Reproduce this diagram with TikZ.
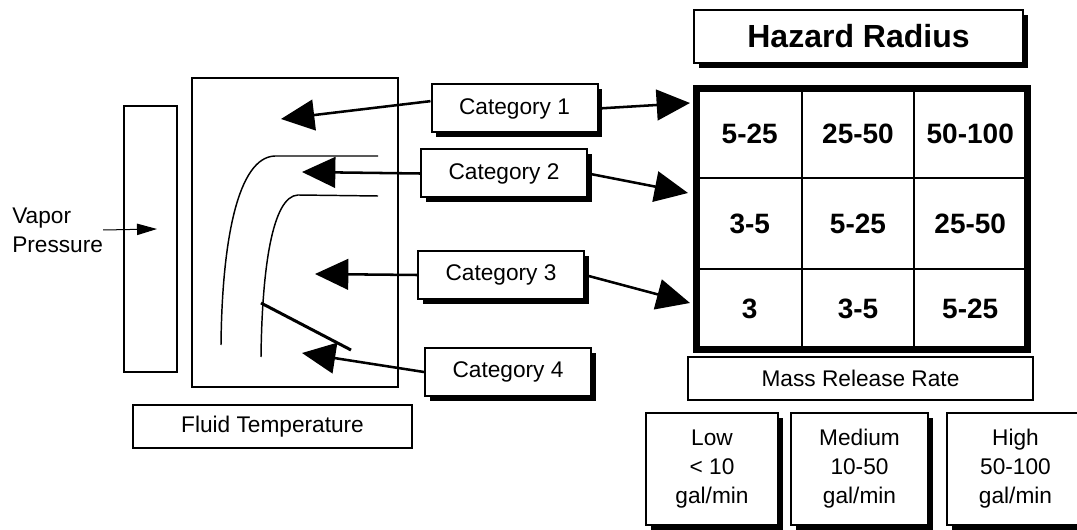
\documentclass[tikz,border=0pt]{standalone}
\usepackage{fontspec}
\setmainfont{Liberation Sans}
\usetikzlibrary{arrows.meta,shadows}

\begin{document}
\begin{tikzpicture}[
    x=0.75pt, y=-0.75pt,
    txt/.style={font=\fontsize{17}{21.75}\selectfont},
    pbox/.style={draw,line width=1.5pt,inner sep=0pt,txt,fill=white},
    sbox/.style={pbox,drop shadow={shadow xshift=3.5pt,shadow yshift=-3.5pt,
                 fill=black,opacity=1}},
    catbox/.style={sbox,minimum width=124.5pt,minimum height=36pt},
    rate/.style={sbox,align=center,minimum height=84pt},
    cell/.style={draw,line width=1.9pt,inner sep=0pt,
                 font=\fontsize{21}{25}\selectfont\bfseries},
    feed/.style={-{Triangle[length=25pt,width=23pt]},line width=1.9pt},
    curve/.style={line width=1.1pt},
  ]
  \clip (0,0) rectangle (1077,530);

  % --- vapor pressure and chart ---
  \node[txt,anchor=west,align=left,inner sep=0pt] (vlab) at (12,230) {Vapor\\Pressure};
  \node[pbox,minimum width=39.75pt,minimum height=199.5pt] (vbar) at (150.5,239) {};
  \node[pbox,minimum width=154.5pt,minimum height=231.75pt] (chart) at (295,232.5) {};
  \coordinate (vtip) at (157,229);
  \draw[-{Triangle[length=15pt,width=8.5pt]},line width=0.75pt] (vlab.east) -- (vtip);

  \draw[curve] (221,345) .. controls (222,240) and (238,157) .. (275,156) -- (378,156);
  \draw[curve] (261,357) .. controls (262,270) and (272,196) .. (298,195) -- (378,196);
  \draw[line width=2.25pt] (261,303) -- (351,350);

  \node[pbox,minimum width=209.25pt,minimum height=32.25pt] (fluid) at (272.5,426.5) {Fluid Temperature};

  % --- categories ---
  \node[catbox] (cat1) at (514.5,108.5) {Category 1};
  \node[catbox] (cat2) at (504,173.5)   {Category 2};
  \node[catbox] (cat3) at (501,275)     {Category 3};
  \node[catbox] (cat4) at (508,372)     {Category 4};

  \coordinate (l1) at (281,119);
  \coordinate (l2) at (302,172);
  \coordinate (l3) at (315,274);
  \coordinate (l4) at (302,353);
  \draw[feed] (cat1.175) -- (l1);
  \draw[feed] (cat2.west) -- (l2);
  \draw[feed] (cat3.west) -- (l3);
  \draw[feed] (cat4.west) -- (l4);

  \coordinate (r1) at (690,103);
  \coordinate (r2) at (688,193);
  \coordinate (r3) at (690,303);
  \draw[feed] (cat1.east) -- (r1);
  \draw[feed] (cat2.east) -- (r2);
  \draw[feed] (cat3.east) -- (r3);

  % --- hazard radius grid ---
  \node[sbox,minimum width=246.75pt,minimum height=39.75pt,
        font=\fontsize{24}{28}\selectfont\bfseries] (hazard) at (858.5,36.5) {Hazard Radius};

  \node[cell,minimum width=78.4pt,minimum height=66.4pt]  (c11) at (749.75,133.75) {5-25};
  \node[cell,minimum width=84pt,minimum height=66.4pt]    (c12) at (858,133.75)    {25-50};
  \node[cell,minimum width=84.4pt,minimum height=66.4pt]  (c13) at (970.25,133.75) {50-100};
  \node[cell,minimum width=78.4pt,minimum height=68.25pt] (c21) at (749.75,223.5)  {3-5};
  \node[cell,minimum width=84pt,minimum height=68.25pt]   (c22) at (858,223.5)     {5-25};
  \node[cell,minimum width=84.4pt,minimum height=68.25pt] (c23) at (970.25,223.5)  {25-50};
  \node[cell,minimum width=78.4pt,minimum height=59.6pt]  (c31) at (749.75,308.75) {3};
  \node[cell,minimum width=84pt,minimum height=59.6pt]    (c32) at (858,308.75)    {3-5};
  \node[cell,minimum width=84.4pt,minimum height=59.6pt]  (c33) at (970.25,308.75) {5-25};
  \draw[line width=5.25pt] (c11.north west) rectangle (c33.south east);

  % --- mass release rate ---
  \node[pbox,minimum width=258.75pt,minimum height=32.25pt] (mass) at (860.5,378.5) {Mass Release Rate};
  \node[rate,minimum width=99pt]     (low)  at (712,469)    {Low\\< 10\\gal/min};
  \node[rate,minimum width=102.75pt] (med)  at (859.5,469)  {Medium\\10-50\\gal/min};
  \node[rate,minimum width=102.75pt] (high) at (1015.5,469) {High\\50-100\\gal/min};

\end{tikzpicture}
\end{document}
